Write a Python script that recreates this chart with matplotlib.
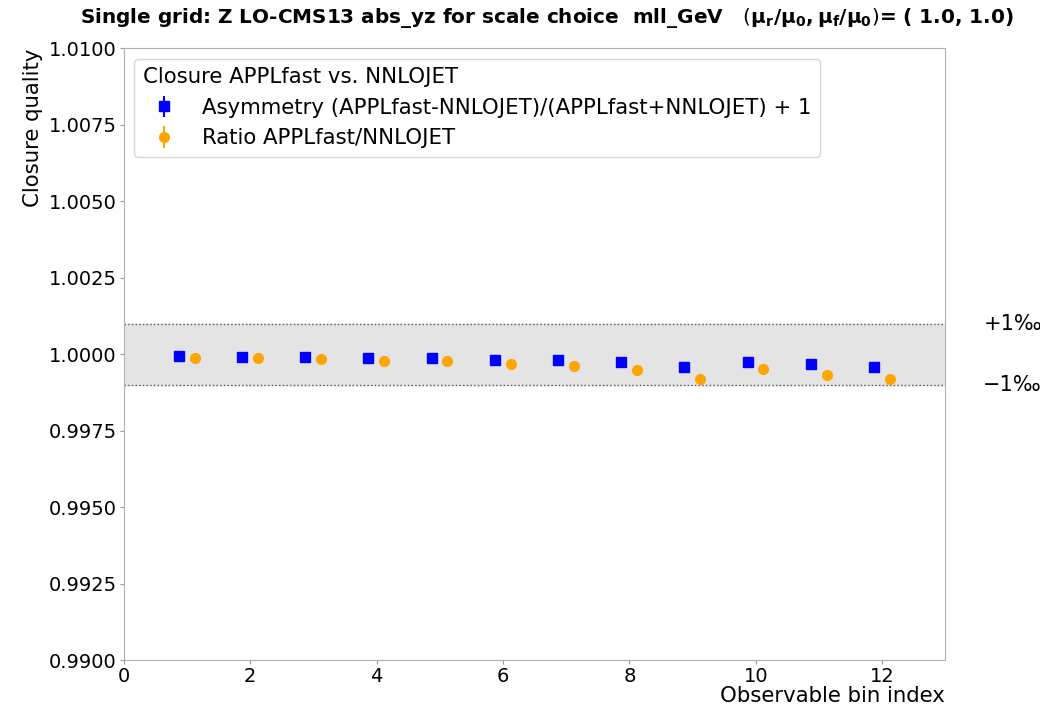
import matplotlib
matplotlib.use("Agg")
import matplotlib.pyplot as plt
import numpy as np

bins = [1, 2, 3, 4, 5, 6, 7, 8, 9, 10, 11, 12]
asym = [0.99994, 0.99992, 0.99990, 0.99988, 0.99988, 0.99982,
        0.99980, 0.99975, 0.99958, 0.99975, 0.99967, 0.99958]
ratio = [0.99989, 0.99987, 0.99983, 0.99977, 0.99978, 0.99969,
         0.99963, 0.99950, 0.99919, 0.99951, 0.99933, 0.99919]
asym_err = [0.00001] * 12
ratio_err = [0.00001] * 12

fig = plt.figure(figsize=(10.4, 7.07), dpi=100)
ax = fig.add_axes([0.119, 0.066, 0.790, 0.866])

x = np.array(bins, dtype=float)
ax.fill_between([0, 13], [0.999, 0.999], [1.001, 1.001], color="#e4e4e4", zorder=0)
ax.axhline(1.001, color="#555555", ls=":", lw=1)
ax.axhline(0.999, color="#555555", ls=":", lw=1)

ax.errorbar(x - 0.13, asym, yerr=asym_err, fmt="s", color="blue", ms=7,
            label="Asymmetry (APPLfast-NNLOJET)/(APPLfast+NNLOJET) + 1")
ax.errorbar(x + 0.12, ratio, yerr=ratio_err, fmt="o", color="orange", ms=7,
            label="Ratio APPLfast/NNLOJET")

ax.set_xlim(0, 13)
ax.set_ylim(0.99, 1.01)
ax.set_xticks([0, 2, 4, 6, 8, 10, 12])
ax.set_yticks(np.arange(0.99, 1.01001, 0.0025))
ax.yaxis.set_major_formatter(matplotlib.ticker.FormatStrFormatter("%.4f"))
ax.tick_params(labelsize=14, length=3, color="#999999", pad=2)
for s in ax.spines.values():
    s.set_color("#b0b0b0")

ax.set_ylabel("Closure quality", fontsize=15.3, loc="top", labelpad=4)
ax.set_xlabel("Observable bin index", fontsize=15.3, loc="right", labelpad=0)
fig.text(0.5255, 0.974,
         r"Single grid: Z LO-CMS13 abs_yz for scale choice  mll_GeV   $(\mathbf{\mu_r/\mu_0, \mu_f/\mu_0})$= ( 1.0, 1.0)",
         fontsize=14.4, fontweight="bold", ha="center", va="center")

ax.text(13.6, 1.001, "+1‰", fontsize=15, va="center", ha="left", clip_on=False)
ax.text(13.6, 0.999, "−1‰", fontsize=15, va="center", ha="left", clip_on=False)

leg = ax.legend(loc="upper left", title="Closure APPLfast vs. NNLOJET",
                fontsize=15.3, title_fontsize=15.3, alignment="left",
                borderaxespad=0.5)

fig.savefig("out.png", dpi=100)
